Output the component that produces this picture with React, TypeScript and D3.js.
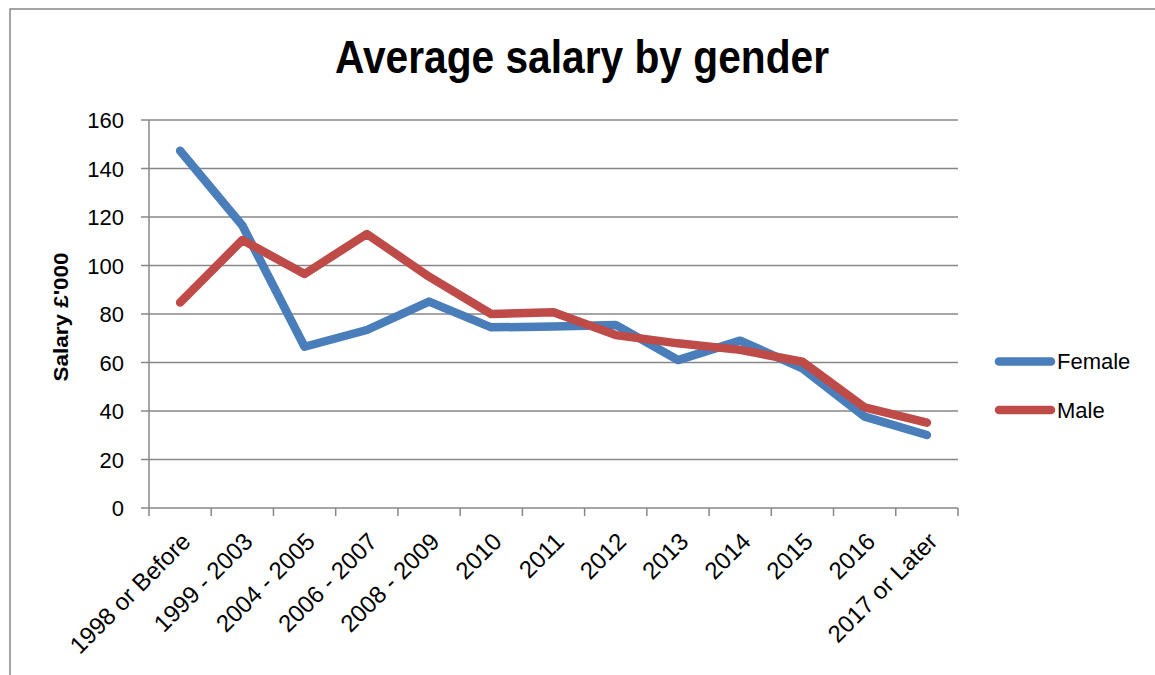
import React from "react";
import * as d3 from "d3";

const categories = [
  "1998 or Before", "1999 - 2003", "2004 - 2005", "2006 - 2007", "2008 - 2009",
  "2010", "2011", "2012", "2013", "2014", "2015", "2016", "2017 or Later",
];
const female = [147.3, 116.5, 66.5, 73.4, 85.1, 74.5, 74.8, 75.5, 61, 69, 57.6, 37.7, 30.1];
const male = [84.7, 110.5, 96.5, 113, 95.4, 80, 80.7, 71.3, 67.9, 65.2, 60.3, 41.5, 35.2];
const yTicks = [0, 20, 40, 60, 80, 100, 120, 140, 160];

const series = [
  { name: "Female", values: female, color: "#4a7ebb" },
  { name: "Male", values: male, color: "#be4b48" },
];

const W = 1155;
const H = 675;
const plot = { left: 149, right: 958, top: 120, bottom: 508 };
const FONT = "'Liberation Sans', Arial, sans-serif";
const GRID = "#878787";

export default function App() {
  const x = d3.scaleBand<string>().domain(categories).range([plot.left, plot.right]).padding(0);
  const y = d3.scaleLinear().domain([0, 160]).range([plot.bottom, plot.top]);
  const cx = (c: string) => (x(c) as number) + x.bandwidth() / 2;
  const line = d3
    .line<number>()
    .x((_, i) => cx(categories[i]))
    .y((v) => y(v));
  const boundaries = d3.range(categories.length + 1).map((i) => plot.left + i * x.step());

  return (
    <svg
      width={W}
      height={H}
      style={{ position: "absolute", left: 0, top: 0, background: "#fff" }}
      fontFamily={FONT}
    >
      <rect x={10} y={9} width={1160} height={680} fill="#fff" stroke={GRID} strokeWidth={1.5} />
      <text
        x={582}
        y={73}
        textAnchor="middle"
        fontSize={46}
        fontWeight="bold"
        textLength={494}
        lengthAdjust="spacingAndGlyphs"
        fill="#000"
      >
        Average salary by gender
      </text>

      {/* gridlines */}
      {yTicks.map((t) => (
        <g key={t}>
          {t > 0 && (
            <line x1={plot.left} x2={plot.right} y1={y(t)} y2={y(t)} stroke={GRID} strokeWidth={1.5} />
          )}
          <line x1={141} x2={plot.left} y1={y(t)} y2={y(t)} stroke={GRID} strokeWidth={1.5} />
          <text x={124} y={y(t) + 8} textAnchor="end" fontSize={22} fill="#000">
            {t}
          </text>
        </g>
      ))}
      {/* axes */}
      <line x1={plot.left} x2={plot.left} y1={plot.top} y2={plot.bottom} stroke={GRID} strokeWidth={1.5} />
      <line x1={plot.left} x2={plot.right} y1={plot.bottom} y2={plot.bottom} stroke={GRID} strokeWidth={1.5} />
      {boundaries.map((b, i) => (
        <line key={i} x1={b} x2={b} y1={plot.bottom} y2={plot.bottom + 8} stroke={GRID} strokeWidth={1.5} />
      ))}
      {categories.map((c) => (
        <text
          key={c}
          transform={`translate(${cx(c) + 6},${537}) rotate(-45)`}
          textAnchor="end"
          dy="0.35em"
          fontSize={24}
          fill="#000"
        >
          {c}
        </text>
      ))}
      <text
        transform={`translate(68,317) rotate(-90)`}
        textAnchor="middle"
        fontSize={21}
        fontWeight="bold"
        textLength={129}
        lengthAdjust="spacingAndGlyphs"
        fill="#000"
      >
        Salary £'000
      </text>

      {/* series */}
      {series.map((s) => (
        <path
          key={s.name}
          d={line(s.values) || ""}
          fill="none"
          stroke={s.color}
          strokeWidth={8.5}
          strokeLinejoin="round"
          strokeLinecap="round"
        />
      ))}

      {/* legend */}
      {series.map((s, i) => (
        <g key={s.name} transform={`translate(0,${361.5 + i * 48.5})`}>
          <line x1={999} x2={1051} y1={0} y2={0} stroke={s.color} strokeWidth={8.5} strokeLinecap="round" />
          <text x={1057} y={7.5} fontSize={22} fill="#000">
            {s.name}
          </text>
        </g>
      ))}
    </svg>
  );
}
